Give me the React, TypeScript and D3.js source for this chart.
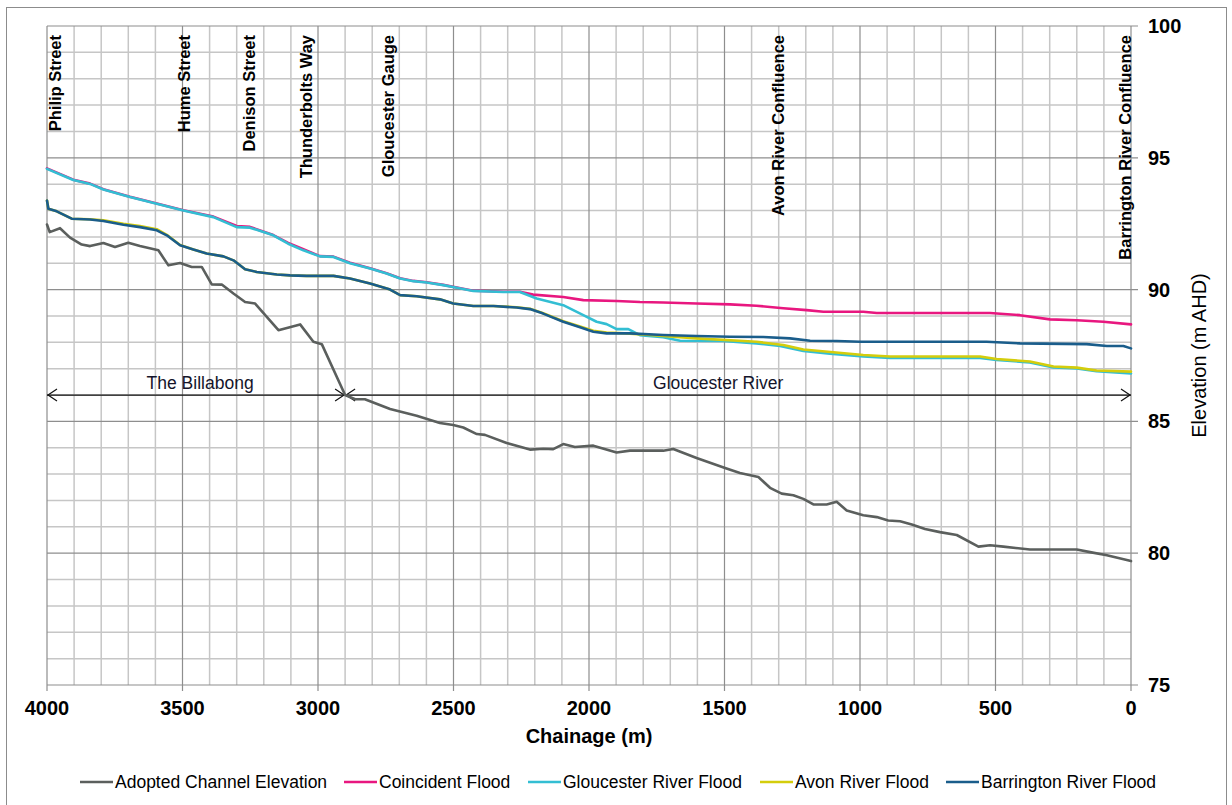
import React from 'react';
import * as d3 from 'd3';

const W = 1232;
const H = 805;
const PL = 47, PR = 1131, PT = 26, PB = 685;

// Axis ticks
const chainageTicks = [4000, 3500, 3000, 2500, 2000, 1500, 1000, 500, 0];
const elevationTicks = [100, 95, 90, 85, 80, 75];

// Series: [chainage (m), elevation (m AHD)]
const channelElevation: [number, number][] = [
  [4000, 92.47], [3990, 92.18], [3952, 92.33], [3915, 91.97], [3872, 91.71], [3841, 91.65],
  [3792, 91.77], [3749, 91.62], [3700, 91.78], [3657, 91.65], [3589, 91.49], [3552, 90.92],
  [3509, 91.01], [3466, 90.86], [3429, 90.86], [3392, 90.2], [3355, 90.19], [3312, 89.85],
  [3269, 89.53], [3232, 89.47], [3146, 88.46], [3066, 88.68], [3017, 88.02], [2986, 87.93],
  [2900, 86.0], [2863, 85.84], [2827, 85.84], [2734, 85.47], [2636, 85.21], [2550, 84.94],
  [2501, 84.86], [2464, 84.77], [2414, 84.52], [2384, 84.49], [2304, 84.18], [2218, 83.93],
  [2169, 83.96], [2132, 83.95], [2095, 84.14], [2052, 84.03], [1984, 84.08], [1898, 83.82],
  [1849, 83.89], [1726, 83.89], [1689, 83.95], [1603, 83.61], [1498, 83.23], [1443, 83.04],
  [1375, 82.89], [1332, 82.48], [1289, 82.26], [1246, 82.2], [1209, 82.06], [1172, 81.85],
  [1123, 81.85], [1086, 81.95], [1049, 81.62], [988, 81.44], [938, 81.37], [896, 81.24],
  [852, 81.21], [809, 81.09], [760, 80.92], [705, 80.8], [643, 80.69], [563, 80.25],
  [520, 80.3], [471, 80.25], [373, 80.14], [200, 80.14], [151, 80.04], [89, 79.92], [0, 79.7],
];

const coincidentFlood: [number, number][] = [
  [4000, 94.6], [3903, 94.17], [3841, 94.02], [3792, 93.81], [3694, 93.52], [3595, 93.27],
  [3497, 93.01], [3386, 92.77], [3300, 92.41], [3251, 92.38], [3165, 92.07], [3110, 91.77],
  [3054, 91.53], [2993, 91.27], [2943, 91.25], [2882, 91.02], [2808, 90.81], [2747, 90.62],
  [2697, 90.43], [2648, 90.33], [2599, 90.28], [2538, 90.18], [2488, 90.08], [2427, 89.96],
  [2316, 89.92], [2255, 89.92], [2206, 89.81], [2095, 89.72], [2021, 89.6], [1898, 89.57],
  [1812, 89.53], [1726, 89.51], [1603, 89.47], [1480, 89.44], [1382, 89.39], [1283, 89.29],
  [1197, 89.22], [1135, 89.16], [988, 89.16], [938, 89.11], [705, 89.11], [520, 89.11],
  [410, 89.03], [299, 88.87], [200, 88.84], [102, 88.78], [0, 88.68],
];

const gloucesterFlood: [number, number][] = [
  [4000, 94.58], [3903, 94.16], [3841, 94.01], [3792, 93.8], [3694, 93.51], [3595, 93.26],
  [3497, 93.0], [3386, 92.75], [3300, 92.37], [3251, 92.35], [3165, 92.06], [3110, 91.74],
  [3054, 91.49], [2993, 91.26], [2943, 91.24], [2882, 91.0], [2808, 90.8], [2747, 90.61],
  [2697, 90.42], [2648, 90.32], [2599, 90.27], [2538, 90.17], [2488, 90.07], [2427, 89.95],
  [2316, 89.91], [2255, 89.91], [2193, 89.66], [2095, 89.41], [2021, 89.03], [1972, 88.78],
  [1935, 88.69], [1898, 88.5], [1855, 88.5], [1812, 88.27], [1726, 88.19], [1664, 88.06],
  [1504, 88.05], [1382, 87.96], [1295, 87.86], [1209, 87.67], [1111, 87.57], [988, 87.46],
  [889, 87.41], [557, 87.41], [496, 87.33], [373, 87.24], [286, 87.05], [200, 87.01],
  [127, 86.9], [0, 86.82],
];

const avonFlood: [number, number][] = [
  [4000, 93.38], [3995, 93.07], [3964, 92.97], [3909, 92.69], [3841, 92.67], [3792, 92.63],
  [3718, 92.5], [3657, 92.41], [3595, 92.29], [3558, 92.08], [3509, 91.69], [3460, 91.52],
  [3411, 91.37], [3349, 91.26], [3312, 91.11], [3269, 90.77], [3226, 90.67], [3152, 90.57],
  [3103, 90.54], [3042, 90.52], [2943, 90.52], [2882, 90.42], [2808, 90.23], [2734, 90.0],
  [2697, 89.79], [2636, 89.75], [2550, 89.63], [2501, 89.47], [2427, 89.38], [2353, 89.38],
  [2267, 89.33], [2218, 89.27], [2169, 89.1], [2095, 88.8], [2033, 88.6], [1984, 88.44],
  [1935, 88.37], [1849, 88.33], [1775, 88.28], [1603, 88.15], [1382, 88.02], [1283, 87.9],
  [1209, 87.73], [988, 87.52], [889, 87.46], [557, 87.46], [496, 87.37], [373, 87.27],
  [286, 87.08], [200, 87.04], [127, 86.93], [0, 86.89],
];

const barringtonFlood: [number, number][] = [
  [4000, 93.38], [3995, 93.07], [3964, 92.97], [3909, 92.69], [3841, 92.66], [3792, 92.6],
  [3718, 92.46], [3657, 92.37], [3595, 92.25], [3558, 92.06], [3509, 91.68], [3460, 91.52],
  [3411, 91.37], [3349, 91.26], [3312, 91.11], [3269, 90.77], [3226, 90.67], [3152, 90.57],
  [3103, 90.54], [3042, 90.52], [2943, 90.52], [2882, 90.42], [2808, 90.23], [2734, 90.0],
  [2697, 89.79], [2636, 89.75], [2550, 89.63], [2501, 89.47], [2427, 89.38], [2353, 89.38],
  [2267, 89.32], [2218, 89.26], [2169, 89.09], [2095, 88.78], [2033, 88.57], [1984, 88.4],
  [1935, 88.34], [1849, 88.34], [1726, 88.28], [1603, 88.24], [1480, 88.21], [1357, 88.2],
  [1258, 88.15], [1184, 88.06], [1086, 88.05], [1000, 88.02], [533, 88.02], [410, 87.96],
  [164, 87.93], [89, 87.86], [28, 87.86], [0, 87.77],
];

const seriesNames = [
  'Adopted Channel Elevation',
  'Coincident Flood',
  'Gloucester River Flood',
  'Avon River Flood',
  'Barrington River Flood',
];
const seriesData = [channelElevation, coincidentFlood, gloucesterFlood, avonFlood, barringtonFlood];
const seriesColors = ['#5b5f5d', '#e8177f', '#33bed3', '#d4cd0c', '#1a5d8b'];

// Location annotations (chainage of label)
const locationNames = [
  'Philip Street',
  'Hume Street',
  'Denison Street',
  'Thunderbolts Way',
  'Gloucester Gauge',
  'Avon River Confluence',
  'Barrington River Confluence',
];
const locationChainages = [3970, 3493, 3256, 3046, 2742, 1303, 22];

// Reach annotations
const reachNames = ['The Billabong', 'Gloucester River'];
const reachFrom = [4000, 2900];
const reachTo = [2900, 0];
const reachLabelAt = [3435, 1523];
const reachElevation = 86;

const FONT = '"Liberation Sans", Arial, sans-serif';

export default function App() {
  const x = d3.scaleLinear().domain([4000, 0]).range([PL, PR]);
  const y = d3.scaleLinear().domain([75, 100]).range([PB, PT]);

  const minorX = d3.range(0, 4001, 100).filter((v) => v % 500 !== 0);
  const minorY = d3.range(75, 101, 1).filter((v) => v % 5 !== 0);

  const line = d3
    .line<[number, number]>()
    .x((d) => x(d[0]))
    .y((d) => y(d[1]));

  const legendLineX = [80, 344, 528, 760, 946];
  const legendY = 782;

  return (
    <svg
      width={W}
      height={H}
      style={{ position: 'absolute', left: 0, top: 0, background: '#fff' }}
      fontFamily={FONT}
    >
      <rect x={0} y={0} width={W} height={H} fill="#fff" />
      <rect x={6.5} y={7.5} width={1220} height={802} fill="none" stroke="#8c8c8c" strokeWidth={1} />

      {/* minor grid */}
      {minorX.map((v) => (
        <line key={'mx' + v} x1={x(v)} x2={x(v)} y1={PT} y2={PB} stroke="#c6c6c6" strokeWidth={1.5} />
      ))}
      {minorY.map((v) => (
        <line key={'my' + v} x1={PL} x2={PR} y1={y(v)} y2={y(v)} stroke="#c6c6c6" strokeWidth={1.5} />
      ))}
      {/* major grid */}
      {chainageTicks.map((v) => (
        <line key={'Mx' + v} x1={x(v)} x2={x(v)} y1={PT} y2={PB + 6} stroke="#8e8e8e" strokeWidth={1.2} />
      ))}
      {elevationTicks.map((v) => (
        <line key={'My' + v} x1={PL} x2={PR + 7} y1={y(v)} y2={y(v)} stroke="#8e8e8e" strokeWidth={1.2} />
      ))}

      {/* reach arrows */}
      {reachNames.map((n, i) => {
        const x0 = x(reachFrom[i]);
        const x1 = x(reachTo[i]);
        const yy = y(reachElevation);
        return (
          <g key={n}>
            <line x1={x0} x2={x1} y1={yy} y2={yy} stroke="#111" strokeWidth={1.2} />
            <path d={`M${x0 + 10},${yy - 6}L${x0 + 1},${yy}L${x0 + 10},${yy + 6}`} fill="none" stroke="#111" strokeWidth={1.2} />
            <path d={`M${x1 - 10},${yy - 6}L${x1 - 1},${yy}L${x1 - 10},${yy + 6}`} fill="none" stroke="#111" strokeWidth={1.2} />
            <text x={x(reachLabelAt[i])} y={yy - 6} textAnchor="middle" fontSize={17.5} fill="#14142a">
              {n}
            </text>
          </g>
        );
      })}

      {/* series */}
      {seriesData.map((d, i) => (
        <path
          key={seriesNames[i]}
          d={line(d) || ''}
          fill="none"
          stroke={seriesColors[i]}
          strokeWidth={2.6}
          strokeLinejoin="round"
          strokeLinecap="round"
        />
      ))}

      {/* location labels */}
      {locationNames.map((n, i) => {
        const lx = x(locationChainages[i]);
        const ly = 35;
        return (
          <text
            key={n}
            x={lx}
            y={ly}
            transform={`rotate(-90 ${lx} ${ly})`}
            textAnchor="end"
            dominantBaseline="central"
            fontSize={16.5}
            fontWeight="bold"
            fill="#000"
          >
            {n}
          </text>
        );
      })}

      {/* x tick labels */}
      {chainageTicks.map((v) => (
        <text key={'xt' + v} x={x(v)} y={715} textAnchor="middle" fontSize={20} fontWeight="bold" fill="#000">
          {v}
        </text>
      ))}
      {/* y tick labels */}
      {elevationTicks.map((v) => (
        <text key={'yt' + v} x={1148} y={y(v) + 7} textAnchor="start" fontSize={20} fontWeight="bold" fill="#000">
          {v}
        </text>
      ))}

      {/* axis titles */}
      <text x={(PL + PR) / 2} y={743} textAnchor="middle" fontSize={20} fontWeight="bold" fill="#000">
        Chainage (m)
      </text>
      <text
        x={1206}
        y={(PT + PB) / 2}
        transform={`rotate(-90 1206 ${(PT + PB) / 2})`}
        textAnchor="middle"
        fontSize={20}
        fill="#000"
      >
        Elevation (m AHD)
      </text>

      {/* legend */}
      {seriesNames.map((n, i) => (
        <g key={'lg' + n}>
          <line
            x1={legendLineX[i]}
            x2={legendLineX[i] + 33}
            y1={legendY}
            y2={legendY}
            stroke={seriesColors[i]}
            strokeWidth={2.6}
          />
          <text x={legendLineX[i] + 35} y={legendY + 6} fontSize={17.5} fill="#000">
            {n}
          </text>
        </g>
      ))}
    </svg>
  );
}
